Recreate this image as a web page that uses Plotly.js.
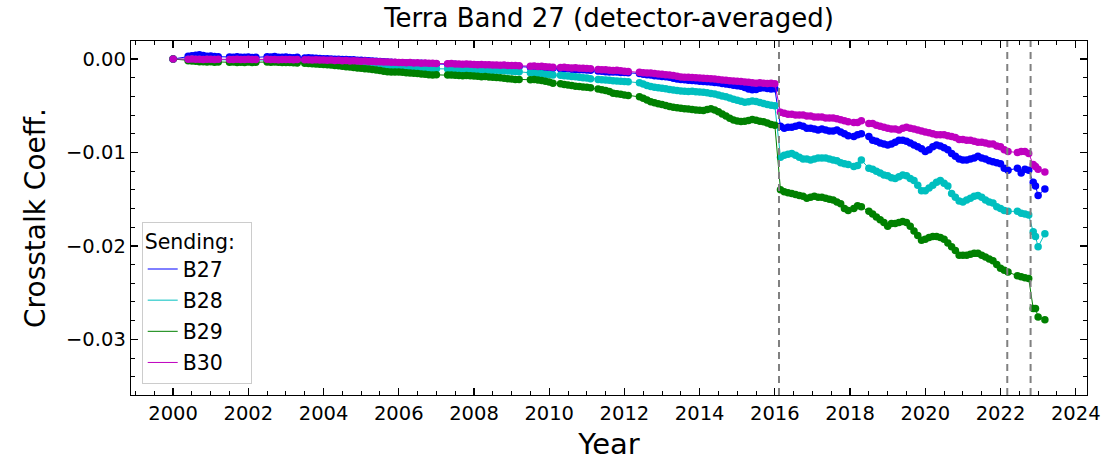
<!DOCTYPE html>
<html>
<head>
<meta charset="utf-8">
<script src="https://cdn.plot.ly/plotly-3.0.1.min.js"></script>
<style>
  html, body { margin: 0; padding: 0; background: #ffffff; }
  #chart { width: 1106px; height: 461px; }
</style>
</head>
<body>
<div id="chart"></div>
<script>
// Sample times before the 2016 event (one row per calendar year)
const yearsPre = [
  2000.0, 2000.4, 2000.5, 2000.6, 2000.7, 2000.8, 2000.9,
  2001.0, 2001.1, 2001.2, 2001.5, 2001.6, 2001.7, 2001.8, 2001.9,
  2002.0, 2002.1, 2002.2, 2002.5, 2002.6, 2002.7, 2002.8, 2002.9,
  2003.0, 2003.1, 2003.2, 2003.3, 2003.5, 2003.6, 2003.7, 2003.8, 2003.9,
  2004.0, 2004.1, 2004.2, 2004.3, 2004.4, 2004.5, 2004.6, 2004.7, 2004.8, 2004.9,
  2005.0, 2005.1, 2005.2, 2005.3, 2005.4, 2005.5, 2005.6, 2005.7, 2005.8, 2005.9,
  2006.0, 2006.1, 2006.2, 2006.3, 2006.4, 2006.5, 2006.6, 2006.7, 2006.8, 2006.9,
  2007.0, 2007.3, 2007.4, 2007.5, 2007.6, 2007.7, 2007.8, 2007.9,
  2008.0, 2008.1, 2008.2, 2008.3, 2008.4, 2008.5, 2008.6, 2008.7, 2008.8, 2008.9,
  2009.0, 2009.1, 2009.2, 2009.5, 2009.6, 2009.7, 2009.8, 2009.9,
  2010.0, 2010.1, 2010.3, 2010.4, 2010.5, 2010.6, 2010.7, 2010.8, 2010.9,
  2011.0, 2011.1, 2011.3, 2011.4, 2011.5, 2011.6, 2011.7, 2011.8, 2011.9,
  2012.0, 2012.1, 2012.4, 2012.5, 2012.6, 2012.7, 2012.8, 2012.9,
  2013.0, 2013.1, 2013.2, 2013.3, 2013.4, 2013.5, 2013.6, 2013.7, 2013.8, 2013.9,
  2014.0, 2014.1, 2014.2, 2014.3, 2014.4, 2014.5, 2014.6, 2014.7, 2014.8, 2014.9,
  2015.0, 2015.1, 2015.2, 2015.3, 2015.4, 2015.5, 2015.6, 2015.7, 2015.8, 2015.9,
  2016.0
];

// Sample times after the 2016 event
const yearsPost = [
  2016.15, 2016.25, 2016.35, 2016.45, 2016.55, 2016.65, 2016.75, 2016.85, 2016.95,
  2017.05, 2017.15, 2017.25, 2017.35, 2017.45, 2017.55, 2017.65, 2017.75, 2017.85, 2017.95,
  2018.1, 2018.2, 2018.3,
  2018.5, 2018.6, 2018.7, 2018.8, 2018.9,
  2019.0, 2019.1, 2019.2, 2019.3, 2019.4, 2019.5, 2019.6, 2019.7, 2019.8, 2019.9,
  2020.0, 2020.1, 2020.2, 2020.3, 2020.4, 2020.5, 2020.6, 2020.7, 2020.8, 2020.9,
  2021.0, 2021.1, 2021.2, 2021.3, 2021.4, 2021.5, 2021.6, 2021.7, 2021.8, 2021.9,
  2022.0, 2022.1, 2022.2,
  2022.45, 2022.55, 2022.65, 2022.75,
  2022.87, 2022.93, 2023.0, 2023.18
];

// Sending band B27
const b27Pre = [
  0, 0.0003, 0.00035, 0.0004, 0.00045, 0.00038, 0.0003,
  0.00033, 0.00028, 0.00025, 0.00022, 0.0002, 0.00024, 0.00018, 0.0002,
  0.00022, 0.00016, 0.00018, 0.00025, 0.00022, 0.00026, 0.0002, 0.00018,
  0.00022, 0.00017, 0.00014, 0.00018, 0.00012, 0.00015, 0.0001, 0.00008, 0.00005,
  0.00003, 0.00004, 0, -0.00002, -0.00001, -0.00005, -0.00004, -0.00008, -0.00009, -0.00012,
  -0.00014, -0.00016, -0.00019, -0.00021, -0.00024, -0.00026, -0.00028, -0.00031, -0.00034, -0.00036,
  -0.00039, -0.00041, -0.00043, -0.00042, -0.00045, -0.00047, -0.00046, -0.00049, -0.0005, -0.00052,
  -0.00053, -0.00056, -0.00058, -0.00057, -0.0006, -0.00062, -0.00061, -0.00064,
  -0.00066, -0.00065, -0.00068, -0.0007, -0.00069, -0.00072, -0.00074, -0.00073, -0.00076, -0.00078,
  -0.0008, -0.00082, -0.00081, -0.00088, -0.0009, -0.00089, -0.00093, -0.00095,
  -0.00098, -0.001, -0.00104, -0.00106, -0.00105, -0.00109, -0.00112, -0.00114, -0.00116,
  -0.00118, -0.00121, -0.00128, -0.00132, -0.00136, -0.00138, -0.0014, -0.00139, -0.00143,
  -0.00145, -0.00148, -0.00155, -0.00162, -0.00168, -0.00172, -0.00178, -0.00182,
  -0.00186, -0.0019, -0.00195, -0.00205, -0.00215, -0.0022, -0.00222, -0.00228, -0.0023, -0.00232,
  -0.00238, -0.0024, -0.00243, -0.00246, -0.0025, -0.00255, -0.00262, -0.00268, -0.00272, -0.0028,
  -0.00285, -0.0029, -0.00305, -0.00322, -0.0033, -0.00325, -0.00312, -0.00308, -0.00315, -0.0032,
  -0.00318
];
const b27Post = [
  -0.0072, -0.0074, -0.0073, -0.0073, -0.0072, -0.0071, -0.0072, -0.0074, -0.0074,
  -0.0075, -0.0076, -0.0075, -0.0076, -0.0077, -0.0077, -0.0076, -0.0078, -0.008, -0.0082,
  -0.0083, -0.0081, -0.008,
  -0.0083, -0.0087, -0.0088, -0.009, -0.0091,
  -0.0092, -0.0091, -0.0089, -0.0087, -0.0087, -0.0088, -0.009, -0.0092, -0.0094, -0.0096,
  -0.0099, -0.0097, -0.0094, -0.0092, -0.0093, -0.0095, -0.0097, -0.0101, -0.0104, -0.0107,
  -0.0108, -0.0108, -0.0107, -0.0106, -0.0104, -0.0106, -0.0107, -0.0109, -0.011, -0.0111,
  -0.0112, -0.0117, -0.0119,
  -0.0117, -0.0122, -0.0118, -0.0119,
  -0.0132, -0.0136, -0.0146, -0.0139
];

// Sending band B28
const b28Pre = [
  0, -0.00005, -0.00003, -0.00006, -0.00004, -0.00008, -0.00006,
  -0.00007, -0.00005, -0.00009, -0.00008, -0.0001, -0.00007, -0.00011, -0.00009,
  -0.0001, -0.00008, -0.00012, -0.0001, -0.00013, -0.00011, -0.00014, -0.00012,
  -0.00014, -0.00016, -0.00015, -0.00018, -0.0002, -0.00019, -0.00022, -0.00024, -0.00023,
  -0.00026, -0.00028, -0.00027, -0.0003, -0.00033, -0.00032, -0.00036, -0.00038, -0.00037, -0.0004,
  -0.00043, -0.00046, -0.00048, -0.00052, -0.00055, -0.00058, -0.00062, -0.00066, -0.0007, -0.00074,
  -0.00078, -0.00082, -0.00085, -0.00088, -0.00092, -0.00094, -0.00097, -0.00098, -0.001, -0.00102,
  -0.00104, -0.00106, -0.00105, -0.00108, -0.0011, -0.00109, -0.00112, -0.00114,
  -0.00113, -0.00116, -0.00118, -0.00117, -0.0012, -0.00122, -0.00121, -0.00124, -0.00126, -0.00128,
  -0.0013, -0.00133, -0.00136, -0.00148, -0.00152, -0.00155, -0.00158, -0.00162,
  -0.00165, -0.0017, -0.00174, -0.00178, -0.00182, -0.00186, -0.0019, -0.00195, -0.002,
  -0.00204, -0.0021, -0.00218, -0.00222, -0.00225, -0.00228, -0.00232, -0.00235, -0.00238,
  -0.0024, -0.00242, -0.00255, -0.00268, -0.00282, -0.00295, -0.00302, -0.00308,
  -0.00312, -0.00318, -0.00325, -0.00332, -0.00338, -0.00342, -0.00345, -0.00348, -0.00346, -0.0035,
  -0.00352, -0.00356, -0.00362, -0.00368, -0.00375, -0.00385, -0.00395, -0.00405, -0.00418, -0.0043,
  -0.0044, -0.00452, -0.00462, -0.00458, -0.0045, -0.00455, -0.00465, -0.00475, -0.00488, -0.00495,
  -0.005
];
const b28Post = [
  -0.0105, -0.0103, -0.0102, -0.0101, -0.0103, -0.0105, -0.0107, -0.0107, -0.0108,
  -0.0107, -0.0106, -0.0106, -0.0106, -0.0107, -0.0108, -0.0109, -0.0111, -0.0112, -0.0113,
  -0.0115, -0.0114, -0.0108,
  -0.0117, -0.0118, -0.012, -0.0122, -0.0124,
  -0.0125, -0.0127, -0.0128, -0.0126, -0.0124, -0.0125, -0.0128, -0.013, -0.0135, -0.0141,
  -0.0141, -0.0138, -0.0135, -0.0132, -0.013, -0.0133, -0.0136, -0.0144, -0.0148, -0.0152,
  -0.0153, -0.0151, -0.0149, -0.0147, -0.0146, -0.0148, -0.0151, -0.0153, -0.0154, -0.0158,
  -0.016, -0.0162, -0.0163,
  -0.0163, -0.0165, -0.0166, -0.0167,
  -0.0185, -0.019, -0.0201, -0.0187
];

// Sending band B29
const b29Pre = [
  0, -0.00018, -0.00022, -0.00025, -0.0003, -0.00028, -0.00032,
  -0.0003, -0.00034, -0.00031, -0.00035, -0.00033, -0.00037, -0.00034, -0.00036,
  -0.00033, -0.00036, -0.00034, -0.00032, -0.00035, -0.00031, -0.00034, -0.00036,
  -0.00038, -0.00036, -0.0004, -0.00042, -0.00045, -0.00048, -0.0005, -0.00053, -0.00056,
  -0.00058, -0.00062, -0.00065, -0.00068, -0.00072, -0.00078, -0.00082, -0.00086, -0.00091, -0.00095,
  -0.001, -0.00104, -0.00108, -0.00112, -0.00118, -0.00124, -0.0013, -0.00136, -0.00138, -0.0014,
  -0.00138, -0.00142, -0.00146, -0.0015, -0.00152, -0.00156, -0.0016, -0.00163, -0.00167, -0.0017,
  -0.00169, -0.00172, -0.00171, -0.00174, -0.00176, -0.00178, -0.00177, -0.0018,
  -0.00182, -0.00184, -0.0019, -0.00188, -0.00192, -0.00195, -0.00198, -0.002, -0.00205, -0.0021,
  -0.00215, -0.0022, -0.00218, -0.00222, -0.0022, -0.00224, -0.0023, -0.00238,
  -0.00245, -0.00258, -0.00265, -0.00272, -0.00278, -0.00284, -0.0029, -0.00295, -0.003,
  -0.00302, -0.00308, -0.0032, -0.00328, -0.00338, -0.00348, -0.00365, -0.00372, -0.00378,
  -0.00385, -0.0039, -0.00405, -0.0042, -0.00438, -0.00458, -0.00468, -0.00478,
  -0.00488, -0.00498, -0.00508, -0.00515, -0.00522, -0.00528, -0.00532, -0.00535, -0.0054, -0.00545,
  -0.00548, -0.00552, -0.0054, -0.00532, -0.00545, -0.00565, -0.00588, -0.0061, -0.00635, -0.00652,
  -0.00662, -0.00668, -0.00665, -0.00658, -0.00648, -0.00655, -0.00665, -0.0067, -0.00685, -0.00702,
  -0.00708
];
const b29Post = [
  -0.014, -0.0142, -0.0143, -0.0144, -0.0145, -0.0146, -0.0147, -0.0149, -0.0148,
  -0.0147, -0.0148, -0.0148, -0.0149, -0.015, -0.0151, -0.0153, -0.0155, -0.016, -0.0162,
  -0.016, -0.0157, -0.0158,
  -0.0163, -0.0166, -0.0169, -0.0172, -0.0175,
  -0.0179, -0.0176, -0.0176, -0.0175, -0.0174, -0.0175, -0.0179, -0.0184, -0.0189, -0.0194,
  -0.0193, -0.0191, -0.019, -0.019, -0.0191, -0.0193, -0.0197, -0.0201, -0.0205, -0.021,
  -0.021, -0.021, -0.0209, -0.0208, -0.0208, -0.021, -0.0212, -0.0214, -0.0216, -0.022,
  -0.0224, -0.0226, -0.0228,
  -0.0232, -0.0233, -0.0234, -0.0235,
  -0.0267, -0.0267, -0.0276, -0.0279
];

// Sending band B30
const b30Pre = [
  0, -0.00002, 0.00001, -0.00003, -0.00001, -0.00004, -0.00002,
  -0.00003, -0.00005, -0.00002, -0.00004, -0.00006, -0.00003, -0.00005, -0.00004,
  -0.00002, -0.00005, -0.00004, -0.00003, -0.00006, -0.00004, -0.00007, -0.00005,
  -0.00006, -0.00004, -0.00008, -0.00006, -0.00009, -0.00007, -0.0001, -0.00008, -0.00011,
  -0.0001, -0.00013, -0.00011, -0.00015, -0.00014, -0.00018, -0.00016, -0.0002, -0.00019, -0.00022,
  -0.00024, -0.00022, -0.00027, -0.00026, -0.0003, -0.00028, -0.00032, -0.00031, -0.00035, -0.00034,
  -0.00037, -0.00036, -0.0004, -0.00038, -0.00042, -0.00041, -0.00044, -0.00043, -0.00046, -0.00045,
  -0.00048, -0.0005, -0.00049, -0.00053, -0.00052, -0.00055, -0.00054, -0.00057,
  -0.00058, -0.0006, -0.00059, -0.00062, -0.00061, -0.00064, -0.00063, -0.00066, -0.00065, -0.00068,
  -0.0007, -0.00069, -0.00072, -0.00076, -0.00075, -0.00079, -0.00078, -0.00082,
  -0.00085, -0.00087, -0.0009, -0.00089, -0.00093, -0.00095, -0.00094, -0.00098, -0.001,
  -0.00102, -0.00105, -0.00112, -0.00115, -0.00114, -0.00119, -0.00122, -0.00121, -0.00126,
  -0.0013, -0.00133, -0.00142, -0.00146, -0.0015, -0.00149, -0.00155, -0.0016,
  -0.00163, -0.00168, -0.00172, -0.00176, -0.00185, -0.00192, -0.00195, -0.00194, -0.00198, -0.002,
  -0.00202, -0.00205, -0.00208, -0.00212, -0.00215, -0.0022, -0.00224, -0.00228, -0.00232, -0.00235,
  -0.00238, -0.0024, -0.00245, -0.00248, -0.00255, -0.00258, -0.00255, -0.0026, -0.00262, -0.00258,
  -0.00265
];
const b30Post = [
  -0.0057, -0.0058, -0.0059, -0.0059, -0.006, -0.006, -0.006, -0.0061, -0.0061,
  -0.0062, -0.0062, -0.0062, -0.0063, -0.0063, -0.0063, -0.0064, -0.0065, -0.0066, -0.0067,
  -0.0068, -0.0068, -0.0066,
  -0.0069, -0.0069, -0.0071, -0.0072, -0.0073,
  -0.0074, -0.0075, -0.0075, -0.0076, -0.0074, -0.0073, -0.0074, -0.0075, -0.0076, -0.0077,
  -0.0078, -0.0079, -0.008, -0.0081, -0.0081, -0.0081, -0.0082, -0.0083, -0.0084, -0.0086,
  -0.0086, -0.0087, -0.0087, -0.0088, -0.0089, -0.0089, -0.009, -0.0091, -0.0091, -0.0093,
  -0.0094, -0.0097, -0.0099,
  -0.01, -0.0099, -0.0099, -0.0101,
  -0.0113, -0.0115, -0.0118, -0.0121
];

// Instrument events marked with dashed lines
const eventYears = [2016.11, 2022.18, 2022.80];

// Axis tick labels
const xTickVals = [2000, 2002, 2004, 2006, 2008, 2010, 2012, 2014, 2016, 2018, 2020, 2022, 2024];
const xTickText = ['2000', '2002', '2004', '2006', '2008', '2010', '2012', '2014', '2016', '2018', '2020', '2022', '2024'];
const yTickVals = [0, -0.01, -0.02, -0.03];
const yTickText = ['0.00', '\u22120.01', '\u22120.02', '\u22120.03'];

const bands = [
  { name: 'B27', color: '#0000ff', pre: b27Pre, post: b27Post },
  { name: 'B28', color: '#00bfbf', pre: b28Pre, post: b28Post },
  { name: 'B29', color: '#008000', pre: b29Pre, post: b29Post },
  { name: 'B30', color: '#bf00bf', pre: b30Pre, post: b30Post }
];

const years = yearsPre.concat(yearsPost);
const traces = [];
bands.forEach(function (b) {
  const vals = b.pre.concat(b.post);
  // thin connecting line (also the legend sample)
  traces.push({
    type: 'scatter', mode: 'lines', name: b.name, legendgroup: b.name,
    x: years, y: vals,
    line: { color: b.color, width: 1 },
    hoverinfo: 'skip'
  });
  // measurement dots
  traces.push({
    type: 'scatter', mode: 'markers', name: b.name, legendgroup: b.name,
    showlegend: false,
    x: years, y: vals,
    marker: { color: b.color, size: 7.5, line: { width: 0 } }
  });
});

const shapes = eventYears.map(function (yr) {
  return {
    type: 'line', xref: 'x', yref: 'paper', x0: yr, x1: yr, y0: 0, y1: 1,
    line: { color: '#808080', width: 2, dash: '7px,5px' },
    layer: 'above'
  };
});

const font = 'DejaVu Sans, Verdana, sans-serif';

const layout = {
  width: 1106, height: 461,
  margin: { l: 131, r: 19, t: 41, b: 66, pad: 0 },
  paper_bgcolor: '#ffffff', plot_bgcolor: '#ffffff',
  font: { family: font, color: '#000000', size: 19.5 },
  showlegend: true,
  title: {
    text: 'Terra Band 27 (detector-averaged)',
    font: { family: font, size: 26, color: '#000000' },
    x: 0.5, xref: 'paper', xanchor: 'center',
    y: 1 - 18 / 461, yref: 'container', yanchor: 'middle'
  },
  xaxis: {
    range: [1998.88, 2024.3],
    tickmode: 'array', tickvals: xTickVals, ticktext: xTickText,
    ticks: 'inside', ticklen: 7, tickwidth: 1.3, tickcolor: '#000000',
    minor: { dtick: 0.5, tick0: 2000, ticks: 'inside', ticklen: 4, tickwidth: 1, tickcolor: '#000000', showgrid: false },
    showline: true, linecolor: '#000000', linewidth: 1.3, mirror: 'ticks',
    showgrid: false, zeroline: false,
    tickfont: { family: font, size: 19.5, color: '#000000' },
    title: { text: 'Year', font: { family: font, size: 29, color: '#000000' }, standoff: 12 }
  },
  yaxis: {
    range: [-0.03596, 0.00193],
    tickmode: 'array', tickvals: yTickVals, ticktext: yTickText,
    ticks: 'inside', ticklen: 7, tickwidth: 1.3, tickcolor: '#000000',
    minor: { dtick: 0.002, tick0: 0, ticks: 'inside', ticklen: 4, tickwidth: 1, tickcolor: '#000000', showgrid: false },
    showline: true, linecolor: '#000000', linewidth: 1.3, mirror: 'ticks',
    showgrid: false, zeroline: false,
    tickfont: { family: font, size: 19.5, color: '#000000' },
    title: { text: 'Crosstalk Coeff.', font: { family: font, size: 28, color: '#000000' }, standoff: 12 }
  },
  legend: {
    x: 0.0112, y: 0.49, xanchor: 'left', yanchor: 'top',
    bgcolor: 'rgba(255,255,255,0.85)', bordercolor: '#cccccc', borderwidth: 1,
    font: { family: font, size: 20.5, color: '#000000' },
    title: { text: 'Sending:\u00a0\u00a0', font: { family: font, size: 20.5, color: '#000000' } },
    tracegroupgap: 1.5,
    itemclick: false, itemdoubleclick: false
  },
  shapes: shapes
};

Plotly.newPlot('chart', traces, layout, { staticPlot: true, displayModeBar: false });
</script>
</body>
</html>
